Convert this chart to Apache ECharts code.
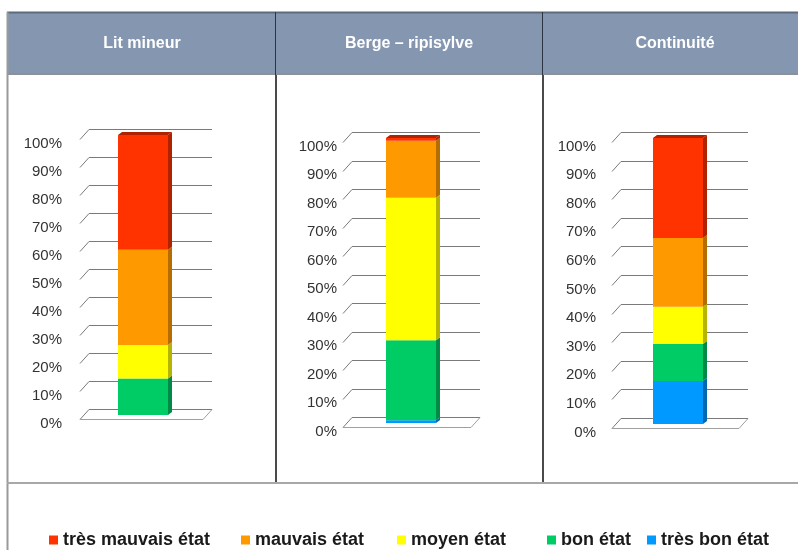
<!DOCTYPE html>
<html>
<head>
<meta charset="utf-8">
<script src="https://cdn.jsdelivr.net/npm/echarts@6/dist/echarts.min.js"></script>
<style>
html,body{margin:0;padding:0;background:#fff;}
#c{width:798px;height:550px;}
</style>
</head>
<body>
<div id="c"></div>
<script>
// ---- data ----
const charts = ['Lit mineur', 'Berge – ripisylve', 'Continuité'];
const states = ['très mauvais état', 'mauvais état', 'moyen état', 'bon état', 'très bon état'];
const tresMauvais = [41, 1, 35];
const mauvais = [34, 20, 24];
const moyen = [12, 50, 13];
const bon = [13, 28, 13];
const tresBon = [0, 1, 15];
const yTicks = [0, 10, 20, 30, 40, 50, 60, 70, 80, 90, 100];

// ---- styles ----
const values = [tresMauvais, mauvais, moyen, bon, tresBon];
const colors = ['#ff3300', '#ff9900', '#ffff00', '#00cc66', '#0099ff'];
const sideColors = ['#b02300', '#b56c00', '#b5b500', '#008a45', '#0067b0'];
const FONT = "'Liberation Sans', Arial, sans-serif";
const layout = [
  {left: 80, top: 135, width: 126, height: 280, margin: 18, center: 142, ext: 6},
  {left: 343, top: 138, width: 136, height: 285, margin: 6, center: 409, ext: 1},
  {left: 612, top: 138, width: 132, height: 286, margin: 16, center: 675, ext: 4}
];
const DX = 9, DF = 4, DB = 6; // 3D offsets

const grids = [], xAxes = [], yAxes = [], series = [];
layout.forEach((L, i) => {
  grids.push({left: L.left, top: L.top, width: L.width, height: L.height, containLabel: false});
  xAxes.push({type: 'category', gridIndex: i, data: [charts[i]], show: false});
  yAxes.push({
    type: 'value', gridIndex: i, min: 0, max: 100, interval: 10,
    axisLine: {show: false}, axisTick: {show: false}, splitLine: {show: false},
    axisLabel: {formatter: '{value}%', margin: L.margin, fontFamily: FONT, fontSize: 15, color: '#333',
      verticalAlign: 'top', lineHeight: 17}
  });
  // 3D frame (back wall grid lines + floor)
  series.push({
    type: 'custom', xAxisIndex: i, yAxisIndex: i, z: 1, silent: true,
    data: yTicks.map(v => [0, v]),
    renderItem: (params, api) => {
      const cs = params.coordSys;
      const v = api.value(1);
      const y = Math.round(api.coord([0, v])[1]) + 0.5;
      const x0 = cs.x, xb = cs.x + cs.width + L.ext;
      const st = {stroke: '#7a7a7a', lineWidth: 1};
      const ch = [
        {type: 'line', shape: {x1: x0, y1: y + DF, x2: x0 + DX, y2: y - DB}, style: st},
        {type: 'line', shape: {x1: x0 + DX, y1: y - DB, x2: xb, y2: y - DB}, style: st}
      ];
      if (v === 0) {
        const st2 = {stroke: '#a0a0a0', lineWidth: 1};
        ch.push({type: 'line', shape: {x1: x0, y1: y + DF, x2: xb - DX, y2: y + DF}, style: st2});
        ch.push({type: 'line', shape: {x1: xb - DX, y1: y + DF, x2: xb, y2: y - DB}, style: st2});
      }
      return {type: 'group', children: ch};
    }
  });
  // stacked bars, bottom to top
  for (let s = states.length - 1; s >= 0; s--) {
    series.push({
      type: 'bar', name: states[s], xAxisIndex: i, yAxisIndex: i, stack: 'c' + i,
      barWidth: 50, data: [values[s][i]], itemStyle: {color: colors[s]}, z: 3
    });
  }
  // side + top faces
  const segs = [];
  let cum = 0;
  for (let s = states.length - 1; s >= 0; s--) {
    const v = values[s][i];
    segs.push([0, cum, cum + v, s]);
    cum += v;
  }
  series.push({
    type: 'custom', xAxisIndex: i, yAxisIndex: i, z: 4, silent: true, data: segs,
    renderItem: (params, api) => {
      const a = api.value(1), b = api.value(2), s = api.value(3);
      if (b - a <= 0) return null;
      const p1 = api.coord([0, a]), p2 = api.coord([0, b]);
      const xr = p1[0] + 25, xl = p1[0] - 25;
      const ch = [{type: 'polygon', shape: {points: [[xr, p1[1]], [xr + 4, p1[1] - 3], [xr + 4, p2[1] - 3], [xr, p2[1]]]},
        style: {fill: sideColors[s]}}];
      if (b >= 99.9) {
        ch.push({type: 'polygon', shape: {points: [[xl, p2[1]], [xl + 4, p2[1] - 3], [xr + 4, p2[1] - 3], [xr, p2[1]]]},
          style: {fill: sideColors[s]}});
      }
      return {type: 'group', children: ch};
    }
  });
});

const legendLeft = [49, 241, 397, 547, 647];
const legends = states.map((s, k) => ({
  data: [s], left: legendLeft[k], top: 531, icon: 'rect', itemWidth: 9, itemHeight: 9,
  selectedMode: false, padding: 0,
  textStyle: {fontFamily: FONT, fontSize: 18, fontWeight: 'bold', color: '#1a1a1a'}
}));

const graphic = [
  {type: 'rect', shape: {x: 7, y: 12, width: 800, height: 63}, style: {fill: '#8596b0'}, z: 0},
  {type: 'line', shape: {x1: 7, y1: 12.5, x2: 798, y2: 12.5}, style: {stroke: '#5e6a7c', lineWidth: 2}, z: 1},
  {type: 'line', shape: {x1: 7, y1: 74, x2: 798, y2: 74}, style: {stroke: '#8b9099', lineWidth: 2}, z: 1},
  {type: 'line', shape: {x1: 275.5, y1: 12, x2: 275.5, y2: 75}, style: {stroke: '#2e3440', lineWidth: 1}, z: 1},
  {type: 'line', shape: {x1: 542.5, y1: 12, x2: 542.5, y2: 75}, style: {stroke: '#2e3440', lineWidth: 1}, z: 1},
  {type: 'line', shape: {x1: 276, y1: 75, x2: 276, y2: 483}, style: {stroke: '#4a4a4a', lineWidth: 2}, z: 1},
  {type: 'line', shape: {x1: 543, y1: 75, x2: 543, y2: 483}, style: {stroke: '#4a4a4a', lineWidth: 2}, z: 1},
  {type: 'line', shape: {x1: 7.5, y1: 12, x2: 7.5, y2: 550}, style: {stroke: '#9a9a9a', lineWidth: 2}, z: 1},
  {type: 'line', shape: {x1: 7, y1: 483, x2: 798, y2: 483}, style: {stroke: '#a8a8a8', lineWidth: 2}, z: 1}
].concat(charts.map((t, i) => ({
  type: 'text', x: layout[i].center, y: 44, z: 2,
  style: {text: t, fill: '#ffffff', font: "bold 16px " + FONT, textAlign: 'center', textVerticalAlign: 'middle'}
})));

const chart = echarts.init(document.getElementById('c'));
chart.setOption({
  animation: false,
  backgroundColor: '#ffffff',
  grid: grids, xAxis: xAxes, yAxis: yAxes, series: series,
  legend: legends, graphic: graphic
});
</script>
</body>
</html>
